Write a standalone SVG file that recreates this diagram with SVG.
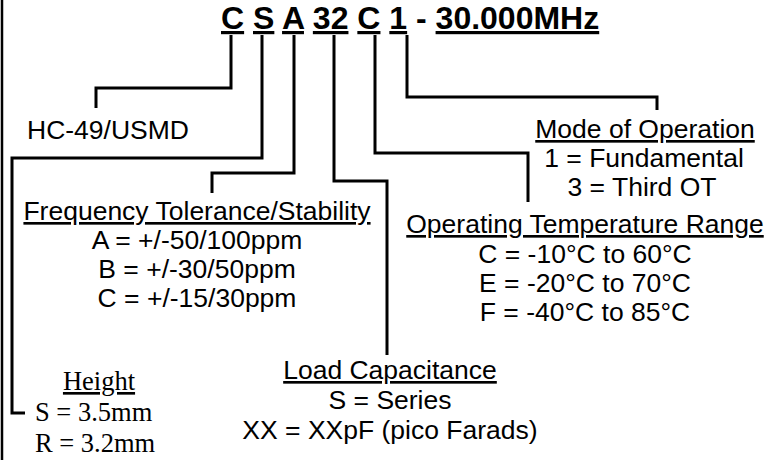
<svg xmlns="http://www.w3.org/2000/svg" width="781" height="460" viewBox="0 0 781 460">
<style>
.t{font-family:"Liberation Sans",Arial,sans-serif;font-size:26.5px;fill:#000;text-anchor:middle}
.s{font-family:"Liberation Serif","Times New Roman",serif;font-size:26.5px;fill:#000}
.h{font-family:"Liberation Sans",Arial,sans-serif;font-size:32px;font-weight:bold;fill:#000}
.u{text-decoration:underline}
.c{fill:none;stroke:#000;stroke-width:3;stroke-linejoin:miter;stroke-linecap:butt}
</style>
<rect width="781" height="460" fill="#fff"/>
<line x1="2" y1="0" x2="2" y2="460" stroke="#000" stroke-width="2.5"/>
<g id="title">
<text class="h" x="221" y="29"><tspan class="u">C</tspan> <tspan class="u">S</tspan> <tspan class="u">A</tspan> <tspan class="u">32</tspan> <tspan class="u">C</tspan> <tspan class="u">1</tspan> - <tspan class="u">30.000MHz</tspan></text>
</g>
<g id="connectors">
<polyline class="c" points="231,35 231,88 96,88 96,108"/>
<polyline class="c" points="262,35 262,158 12,158 12,413 25,413"/>
<polyline class="c" points="294,35 294,173 212,173 212,193"/>
<polyline class="c" points="334,35 334,181 387,181 387,355"/>
<polyline class="c" points="375,35 375,153 528,153 528,202"/>
<polyline class="c" points="407,35 407,97 657,97 657,110"/>
</g>
<g id="package">
<text class="t" x="108" y="139">HC-49/USMD</text>
</g>
<g id="mode">
<text class="t u" x="645" y="138">Mode of Operation</text>
<text class="t" x="644" y="167">1 = Fundamental</text>
<text class="t" x="642" y="196">3 = Third OT</text>
</g>
<g id="temperature">
<text class="t u" x="585" y="233">Operating Temperature Range</text>
<text class="t" x="585" y="263">C = -10°C to 60°C</text>
<text class="t" x="585" y="292">E = -20°C to 70°C</text>
<text class="t" x="585" y="321">F = -40°C to 85°C</text>
</g>
<g id="tolerance">
<text class="t u" x="197" y="220">Frequency Tolerance/Stability</text>
<text class="t" x="197" y="249">A = +/-50/100ppm</text>
<text class="t" x="197" y="278">B = +/-30/50ppm</text>
<text class="t" x="197" y="307">C = +/-15/30ppm</text>
</g>
<g id="load">
<text class="t u" x="390" y="379">Load Capacitance</text>
<text class="t" x="390" y="409">S = Series</text>
<text class="t" x="390" y="439">XX = XXpF (pico Farads)</text>
</g>
<g id="height">
<text class="s u" x="99" y="390" text-anchor="middle">Height</text>
<text class="s" x="35" y="421">S = 3.5mm</text>
<text class="s" x="35" y="452">R = 3.2mm</text>
</g>
</svg>
